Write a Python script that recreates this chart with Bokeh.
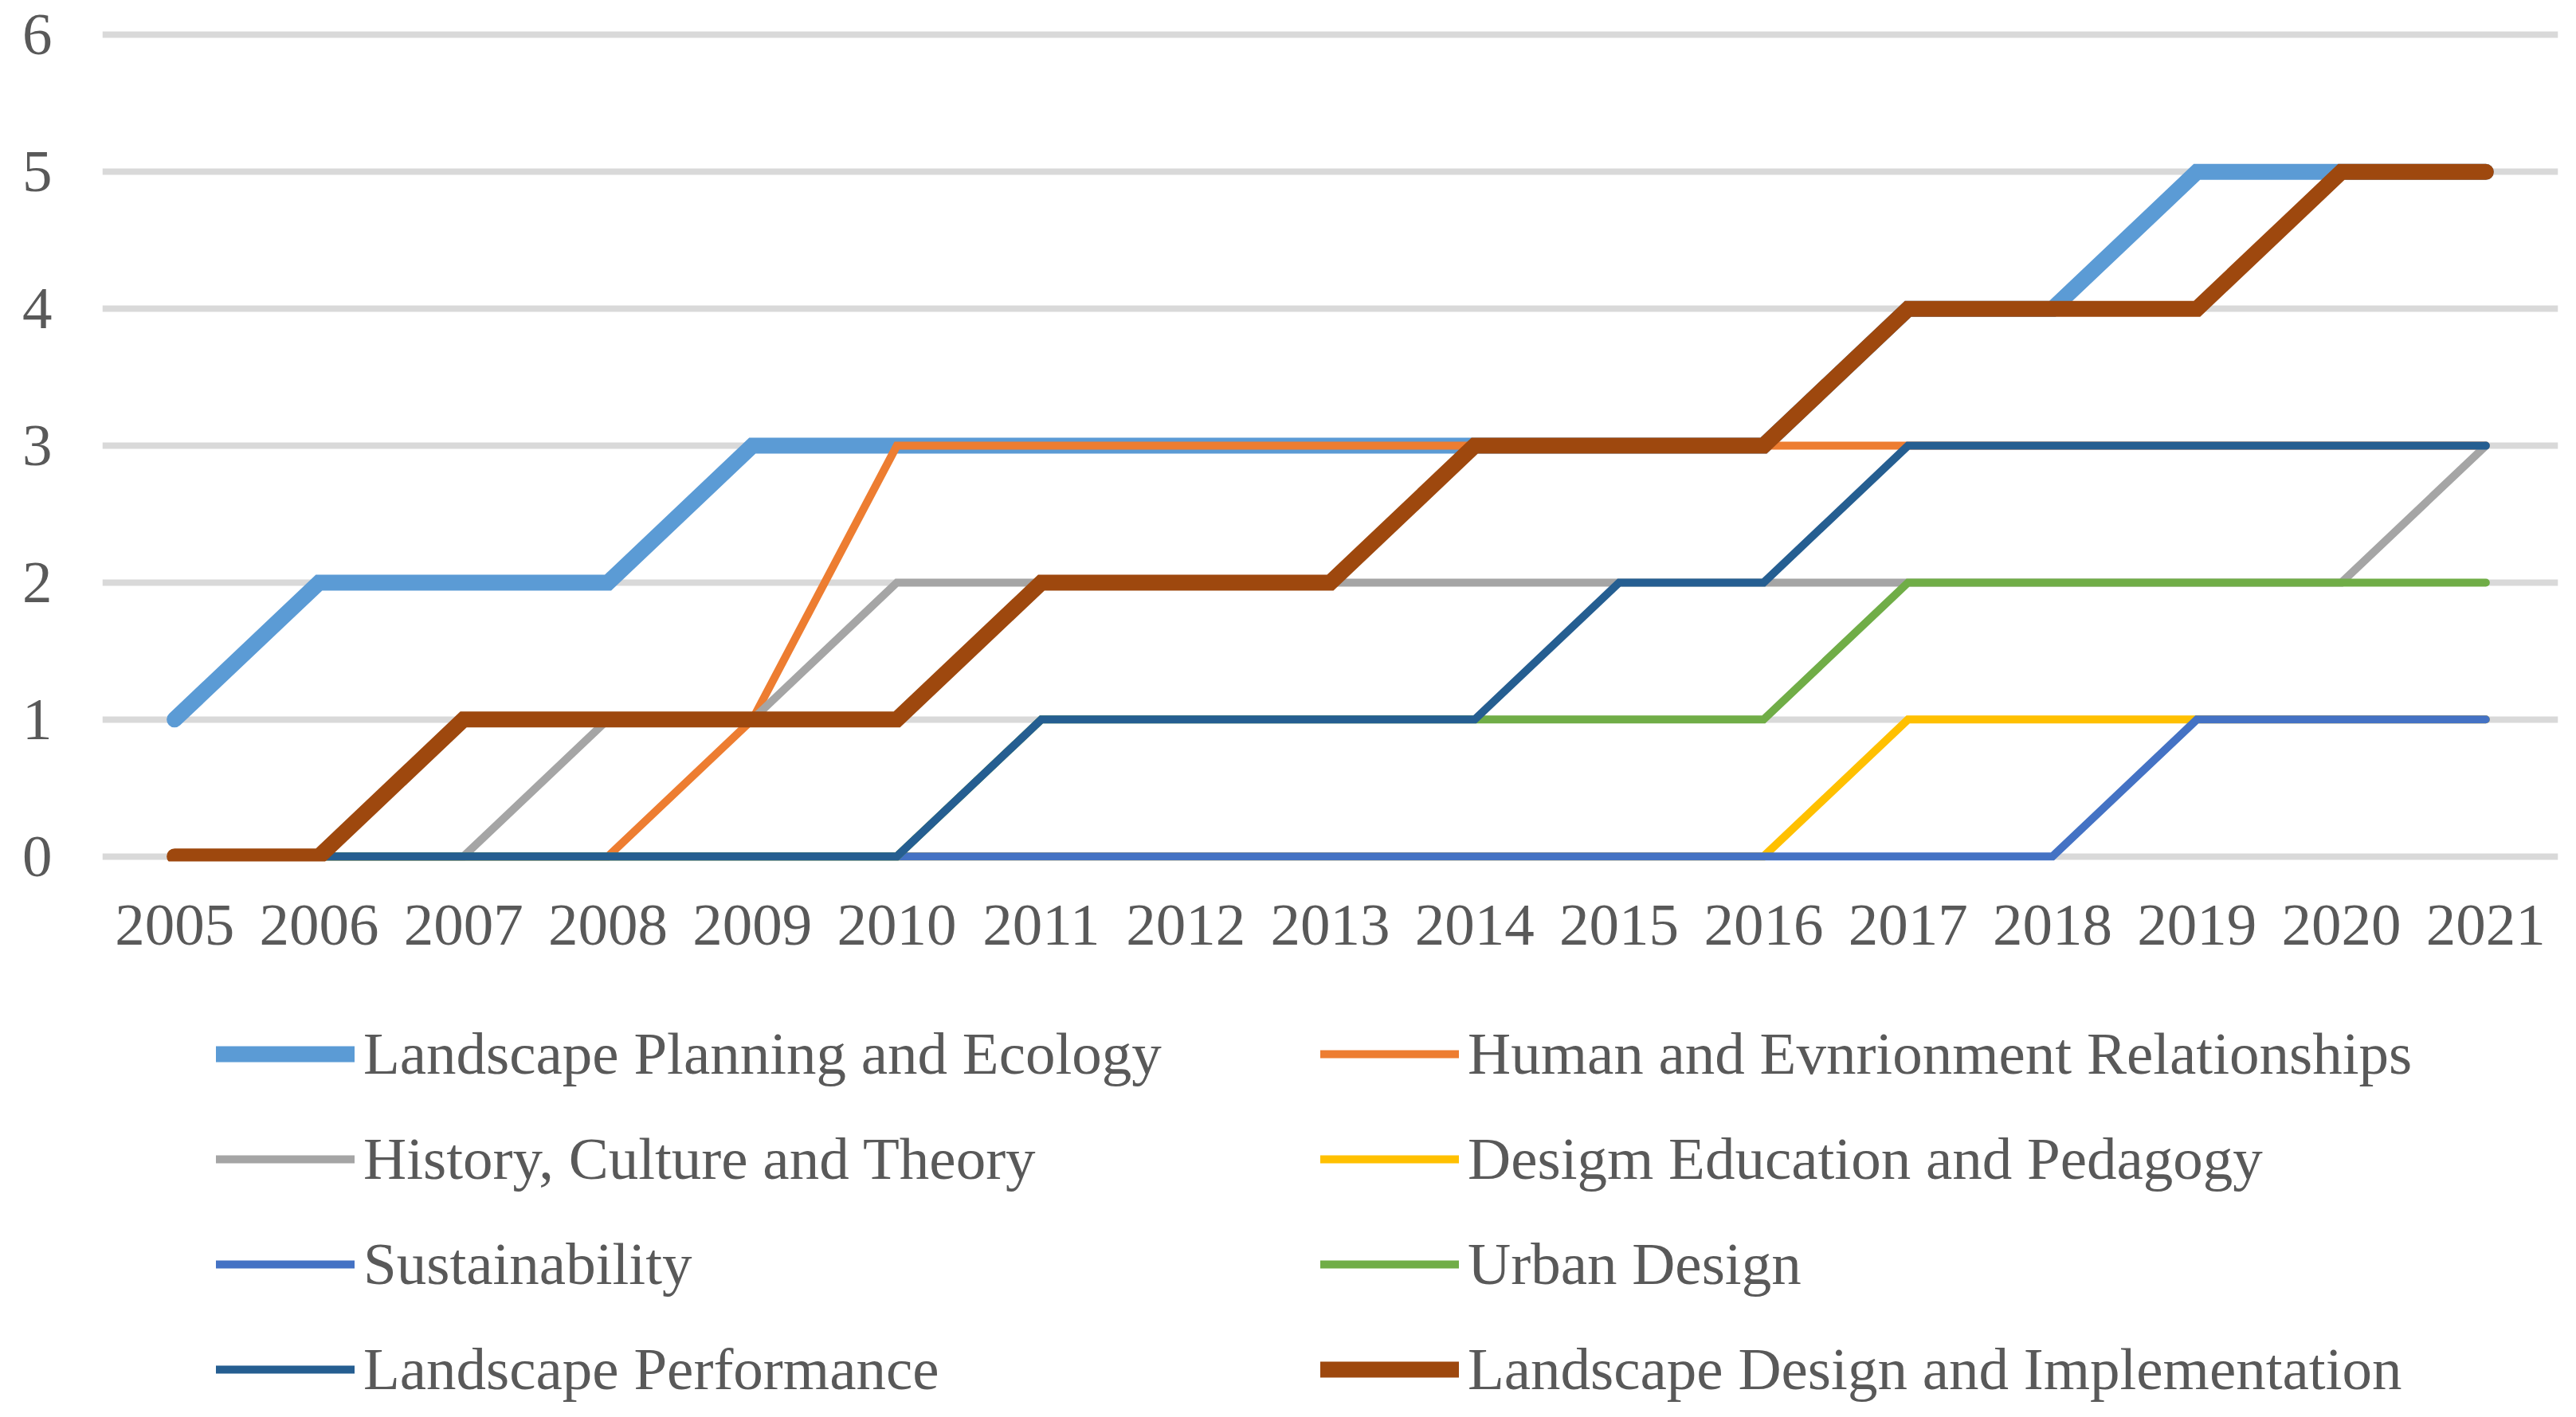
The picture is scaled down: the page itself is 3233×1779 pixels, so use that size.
from bokeh.plotting import figure
from bokeh.layouts import column
from bokeh.models import Range1d, FixedTicker, Legend, LegendItem
from bokeh.embed import file_html
from bokeh.resources import INLINE

years = list(range(2005, 2022))
planning_ecology = [1, 2, 2, 2, 3, 3, 3, 3, 3, 3, 3, 3, 4, 4, 5, 5, 5]
human_environment = [0, 0, 0, 0, 1, 3, 3, 3, 3, 3, 3, 3, 3, 3, 3, 3, 3]
history_culture = [0, 0, 0, 1, 1, 2, 2, 2, 2, 2, 2, 2, 2, 2, 2, 2, 3]
design_education = [0, 0, 0, 0, 0, 0, 0, 0, 0, 0, 0, 0, 1, 1, 1, 1, 1]
sustainability = [0, 0, 0, 0, 0, 0, 0, 0, 0, 0, 0, 0, 0, 0, 1, 1, 1]
urban_design = [0, 0, 0, 0, 0, 0, 1, 1, 1, 1, 1, 1, 2, 2, 2, 2, 2]
performance = [0, 0, 0, 0, 0, 0, 1, 1, 1, 1, 2, 2, 3, 3, 3, 3, 3]
design_impl = [0, 0, 1, 1, 1, 1, 2, 2, 2, 3, 3, 3, 4, 4, 4, 5, 5]
y_ticks = [0, 1, 2, 3, 4, 5, 6]

series = [
    ("Landscape Planning and Ecology", planning_ecology, "#5B9BD5", 20),
    ("Human and Evnrionment Relationships", human_environment, "#ED7D31", 10),
    ("History, Culture and Theory", history_culture, "#A5A5A5", 10),
    ("Desigm Education and Pedagogy", design_education, "#FFC000", 10),
    ("Sustainability", sustainability, "#4472C4", 10),
    ("Urban Design", urban_design, "#70AD47", 10),
    ("Landscape Performance", performance, "#255E91", 10),
    ("Landscape Design and Implementation", design_impl, "#9E480E", 20),
]

FONT = "Liberation Serif"
TXT = "#595959"
FS = "75px"

p = figure(frame_width=3082, frame_height=1051,
           min_border_left=128, min_border_right=7, min_border_top=30,
           min_border_bottom=160,
           x_range=Range1d(2004.5, 2021.5), y_range=Range1d(-0.0367, 6.0785),
           output_backend="svg", toolbar_location=None)
p.outline_line_color = None
p.background_fill_color = "white"
p.border_fill_color = "white"

p.xgrid.grid_line_color = None
p.ygrid.grid_line_color = "#D9D9D9"
p.ygrid.grid_line_width = 8
p.ygrid.ticker = FixedTicker(ticks=y_ticks)

p.xaxis.ticker = FixedTicker(ticks=years)
p.yaxis.ticker = FixedTicker(ticks=y_ticks)
for ax in (p.xaxis, p.yaxis):
    ax.axis_line_color = None
    ax.major_tick_line_color = None
    ax.minor_tick_line_color = None
    ax.major_tick_out = 0
    ax.major_tick_in = 0
    ax.major_label_text_font = FONT
    ax.major_label_text_font_size = FS
    ax.major_label_text_color = TXT
p.yaxis.major_label_standoff = 63
p.xaxis.major_label_standoff = 55

for name, vals, color, w in series:
    p.line(years, vals, line_color=color, line_width=w,
           line_cap="round", line_join="miter")

# legend strip below the chart (proxy renderers lie outside its view)
lg = figure(frame_width=3217, frame_height=522, min_border=0,
            x_range=Range1d(0, 1), y_range=Range1d(0, 1),
            x_axis_location=None, y_axis_location=None,
            output_backend="svg", toolbar_location=None)
lg.outline_line_color = None
lg.xgrid.grid_line_color = None
lg.ygrid.grid_line_color = None
lg.background_fill_color = "white"
lg.border_fill_color = "white"

items = []
for name, vals, color, w in series:
    r = lg.line(years, vals, line_color=color, line_width=w,
                line_cap="round", line_join="miter")
    items.append(LegendItem(label=name, renderers=[r]))

legend = Legend(items=items, orientation="horizontal", ncols=2,
                location=(271, 0), margin=0, padding=0,
                glyph_width=174, glyph_height=88, label_height=88,
                label_width=1157, label_standoff=11, spacing=44,
                label_text_font=FONT, label_text_font_size=FS,
                label_text_color=TXT, border_line_color=None,
                background_fill_alpha=0)
lg.add_layout(legend, "center")

layout = column(p, lg, spacing=0)
open("out.html", "w").write(file_html(layout, INLINE))
